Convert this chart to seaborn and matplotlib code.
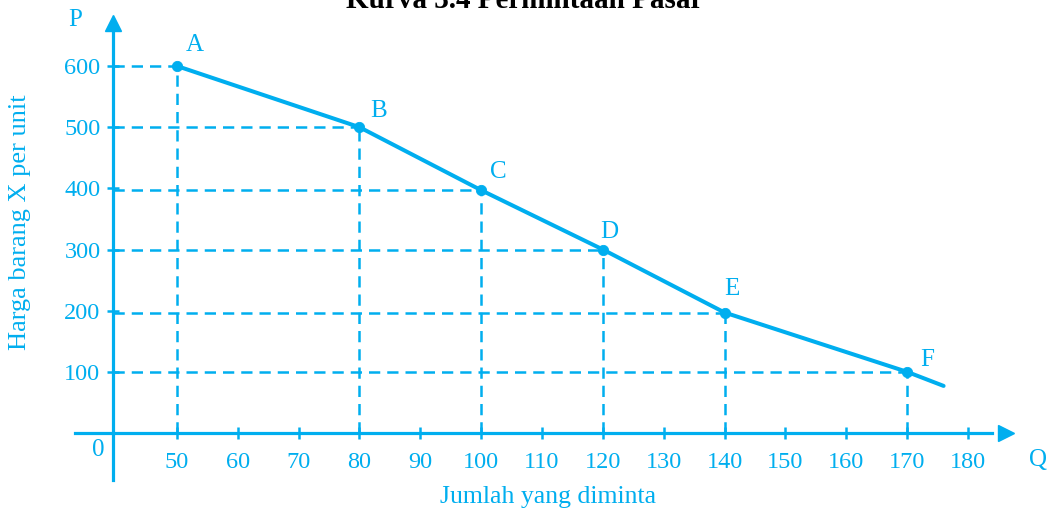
import numpy as np
import matplotlib
matplotlib.use("Agg")
import matplotlib.pyplot as plt
import seaborn as sns
import pandas as pd

# ---- data ----
labels = ["A", "B", "C", "D", "E", "F"]
quantity = [50, 80, 100, 120, 140, 170]
price = [600, 500, 397, 300, 197, 100]
line_end_q = [176]
line_end_p = [77]
x_ticks = [50, 60, 70, 80, 90, 100, 110, 120, 130, 140, 150, 160, 170, 180]
y_ticks = [100, 200, 300, 400, 500, 600]

title = "Kurva 3.4 Permintaan Pasar"
xlabel = "Jumlah yang diminta"
ylabel = "Harga barang X per unit"

C = "#00AEEF"
W, H = 1053, 514

sns.set_theme(style="white")
plt.rcParams["font.family"] = ["Liberation Serif", "DejaVu Serif"]

fig = plt.figure(figsize=(W / 100, H / 100), dpi=100)
ax = fig.add_axes([0, 0, 1, 1])
ax.patch.set_alpha(0)


# broken x axis: 0..50 compressed, then linear
def fwd(q):
    q = np.asarray(q, dtype=float)
    return np.where(q >= 50, (q - 50) / 10 + 1.05, q * 1.05 / 50)


def inv(p):
    p = np.asarray(p, dtype=float)
    return np.where(p >= 1.05, (p - 1.05) * 10 + 50, p * 50 / 1.05)


ax.set_xscale("function", functions=(fwd, inv))
ax.set_xlim(-88.4, 193.98)
ax.set_ylim(-132.4, 707.9)

# dashed guide lines
dash = dict(color=C, lw=1.8, ls=(0, (4.5, 2.8)), zorder=1)
for q, p in zip(quantity, price):
    ax.plot([0, q], [p, p], **dash)
    ax.plot([q, q], [0, p], **dash)

# demand curve
df = pd.DataFrame({"Q": quantity + line_end_q, "P": price + line_end_p})
sns.lineplot(data=df, x="Q", y="P", ax=ax, color=C, lw=2.9, sort=False, zorder=3)
sns.scatterplot(x=quantity, y=price, ax=ax, color=C, s=55, edgecolor=C, zorder=4)
ax.set_xlabel("")
ax.set_ylabel("")

# point labels
offsets = [(18, 21), (19, 16), (17, 18), (6, 18), (7, 24), (20, 12)]
for lab, q, p, (dx, dy) in zip(labels, quantity, price, offsets):
    ax.annotate(lab, (q, p), xytext=(dx * 0.72, dy * 0.72), textcoords="offset points",
                ha="center", va="center", color=C, fontsize=18)

# axes as spines
for s in ["top", "right"]:
    ax.spines[s].set_visible(False)
ax.spines["left"].set_position(("data", 0))
ax.spines["bottom"].set_position(("data", 0))
ax.spines["left"].set_bounds(-76.8, 662)
ax.spines["bottom"].set_bounds(-29.6, 184)
for s in ["left", "bottom"]:
    ax.spines[s].set_color(C)
    ax.spines[s].set_linewidth(2.3)

ax.plot([0], [669.5], marker="^", ms=12, color=C, clip_on=False, zorder=5)
ax.plot([186.2], [0], marker=">", ms=12, color=C, clip_on=False, zorder=5)

ax.set_xticks(x_ticks)
ax.set_xticklabels([str(t) for t in x_ticks])
ax.set_yticks(y_ticks)
ax.set_yticklabels([str(t) for t in y_ticks])
ax.xaxis.set_minor_locator(matplotlib.ticker.NullLocator())
ax.tick_params(axis="both", direction="inout", length=8, width=1.8, color=C,
               labelcolor=C, labelsize=17.5, bottom=True, left=True)
ax.tick_params(axis="x", pad=10)
ax.tick_params(axis="y", pad=5)
ax.grid(False)

# texts
def ft(x, y, s, **kw):
    fig.text(x / W, 1 - y / H, s, **kw)

ft(525, 8, title, ha="center", va="baseline", fontsize=21, fontweight="bold", color="black")
ft(75, 20, "P", ha="center", va="center", color=C, fontsize=18)
ft(1038, 460, "Q", ha="center", va="center", color=C, fontsize=18)
ft(98, 450, "0", ha="center", va="center", color=C, fontsize=18)
ft(20, 222, ylabel, ha="center", va="center", rotation=90, color=C, fontsize=19)
ft(548, 497, xlabel, ha="center", va="center", color=C, fontsize=18.5)

fig.savefig("out.png", dpi=100)
